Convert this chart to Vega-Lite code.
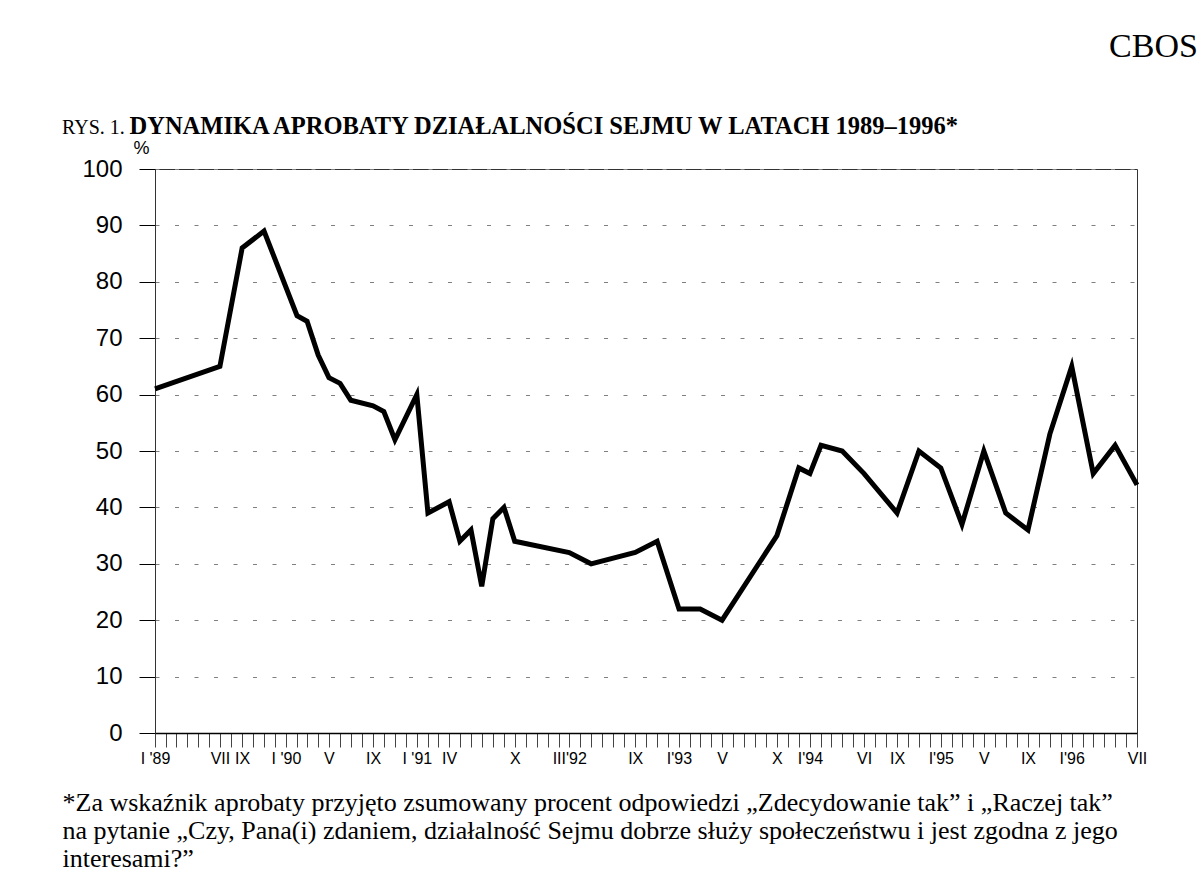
{
  "$schema": "https://vega.github.io/schema/vega-lite/v6.json",
  "width": 982,
  "height": 564,
  "autosize": {"type": "none"},
  "padding": {"left": 155, "top": 169, "right": 67, "bottom": 139},
  "background": "white",
  "title": {
    "text": "RYS. 1.",
    "anchor": "start",
    "frame": "group",
    "font": "Liberation Serif",
    "fontSize": 20,
    "fontWeight": "normal",
    "color": "black",
    "dx": -93,
    "dy": 109,
    "offset": 0
  },
  "config": {
    "view": {"stroke": "#333333", "strokeWidth": 1},
    "axis": {"labelFont": "Liberation Sans", "titleFont": "Liberation Sans", "labelColor": "black", "titleColor": "black"}
  },
  "data": {
    "values": [
      {"date": "1989-01-01", "approval": 61},
      {"date": "1989-07-01", "approval": 65},
      {"date": "1989-09-01", "approval": 86},
      {"date": "1989-11-01", "approval": 89},
      {"date": "1990-02-01", "approval": 74},
      {"date": "1990-03-01", "approval": 73},
      {"date": "1990-04-01", "approval": 67},
      {"date": "1990-05-01", "approval": 63},
      {"date": "1990-06-01", "approval": 62},
      {"date": "1990-07-01", "approval": 59},
      {"date": "1990-09-01", "approval": 58},
      {"date": "1990-10-01", "approval": 57},
      {"date": "1990-11-01", "approval": 52},
      {"date": "1991-01-01", "approval": 60},
      {"date": "1991-02-01", "approval": 39},
      {"date": "1991-04-01", "approval": 41},
      {"date": "1991-05-01", "approval": 34},
      {"date": "1991-06-01", "approval": 36},
      {"date": "1991-07-01", "approval": 26},
      {"date": "1991-08-01", "approval": 38},
      {"date": "1991-09-01", "approval": 40},
      {"date": "1991-10-01", "approval": 34},
      {"date": "1992-03-01", "approval": 32},
      {"date": "1992-05-01", "approval": 30},
      {"date": "1992-09-01", "approval": 32},
      {"date": "1992-11-01", "approval": 34},
      {"date": "1993-01-01", "approval": 22},
      {"date": "1993-03-01", "approval": 22},
      {"date": "1993-05-01", "approval": 20},
      {"date": "1993-10-01", "approval": 35},
      {"date": "1993-12-01", "approval": 47},
      {"date": "1994-01-01", "approval": 46},
      {"date": "1994-02-01", "approval": 51},
      {"date": "1994-04-01", "approval": 50},
      {"date": "1994-06-01", "approval": 46},
      {"date": "1994-09-01", "approval": 39},
      {"date": "1994-11-01", "approval": 50},
      {"date": "1995-01-01", "approval": 47},
      {"date": "1995-03-01", "approval": 37},
      {"date": "1995-05-01", "approval": 50},
      {"date": "1995-07-01", "approval": 39},
      {"date": "1995-09-01", "approval": 36},
      {"date": "1995-11-01", "approval": 53},
      {"date": "1996-01-01", "approval": 65},
      {"date": "1996-03-01", "approval": 46},
      {"date": "1996-05-01", "approval": 51},
      {"date": "1996-07-01", "approval": 44}
    ]
  },
  "resolve": {"axis": {"x": "independent", "y": "independent"}},
  "layer": [
    {
      "mark": {"type": "line", "color": "black", "strokeWidth": 5, "strokeJoin": "miter", "clip": false},
      "encoding": {
        "x": {
          "field": "date",
          "type": "temporal",
          "scale": {
            "type": "utc",
            "domain": [
              {"year": 1989, "month": 1, "date": 1, "utc": true},
              {"year": 1996, "month": 7, "date": 1, "utc": true}
            ]
          },
          "axis": {
            "orient": "bottom",
            "grid": false,
            "tickCount": {"interval": "month", "step": 1},
            "labelExpr": "indexof([0,6,8,12,16,20,24,27,33,38,44,48,52,57,60,65,68,72,76,80,84,90], (utcyear(datum.value)-1989)*12+utcmonth(datum.value)) >= 0 ? [\"I '89\",'VII','IX',\"I '90\",'V','IX',\"I '91\",'IV','X',\"III'92\",'IX',\"I'93\",'V','X',\"I'94\",'VI','IX',\"I'95\",'V','IX',\"I'96\",'VII'][indexof([0,6,8,12,16,20,24,27,33,38,44,48,52,57,60,65,68,72,76,80,84,90], (utcyear(datum.value)-1989)*12+utcmonth(datum.value))] : ''",
            "labelFontSize": 16,
            "labelPadding": 3,
            "labelOverlap": false,
            "labelFlush": false,
            "labelAlign": "center",
            "tickSize": 14,
            "tickColor": "#444444",
            "tickWidth": 1,
            "domainColor": "black",
            "domainWidth": 1.5,
            "title": [
              "*Za wskaźnik aprobaty przyjęto zsumowany procent odpowiedzi „Zdecydowanie tak” i „Raczej tak”",
              "na pytanie „Czy, Pana(i) zdaniem, działalność Sejmu dobrze służy społeczeństwu i jest zgodna z jego",
              "interesami?”"
            ],
            "titleFont": "Liberation Serif",
            "titleFontSize": 26,
            "titleFontWeight": "normal",
            "titleLineHeight": 28,
            "titleAlign": "left",
            "titleBaseline": "alphabetic",
            "titleX": -93,
            "titleY": 77
          }
        },
        "y": {
          "field": "approval",
          "type": "quantitative",
          "scale": {"domain": [0, 100], "nice": false, "zero": true},
          "axis": {
            "orient": "left",
            "values": [0, 10, 20, 30, 40, 50, 60, 70, 80, 90, 100],
            "grid": true,
            "gridColor": "#808080",
            "gridDash": [4, 15.5],
            "gridWidth": 1,
            "labelFontSize": 24,
            "labelPadding": 17,
            "tickSize": 16,
            "tickColor": "black",
            "domainColor": "#333333",
            "title": "%",
            "titleFontSize": 18,
            "titleFontWeight": "normal",
            "titleAngle": 0,
            "titleAlign": "center",
            "titleBaseline": "alphabetic",
            "titleX": -14,
            "titleY": -16
          }
        }
      }
    },
    {
      "mark": {"type": "line", "strokeOpacity": 0},
      "encoding": {
        "x": {
          "field": "date",
          "type": "temporal",
          "axis": {
            "orient": "top",
            "grid": false,
            "labels": false,
            "ticks": false,
            "domain": false,
            "title": "DYNAMIKA APROBATY DZIAŁALNOŚCI SEJMU W LATACH 1989–1996*",
            "titleFont": "Liberation Serif",
            "titleFontSize": 24.5,
            "titleFontWeight": "bold",
            "titleAlign": "left",
            "titleBaseline": "alphabetic",
            "titleX": -26,
            "titleY": -36
          }
        },
        "y": {
          "field": "approval",
          "type": "quantitative",
          "axis": {
            "orient": "right",
            "grid": false,
            "labels": false,
            "ticks": false,
            "domain": false,
            "title": "CBOS",
            "titleFont": "Liberation Serif",
            "titleFontSize": 34,
            "titleFontWeight": "normal",
            "titleAngle": 0,
            "titleAlign": "center",
            "titleBaseline": "alphabetic",
            "titleX": 16,
            "titleY": -113
          }
        }
      }
    }
  ]
}
